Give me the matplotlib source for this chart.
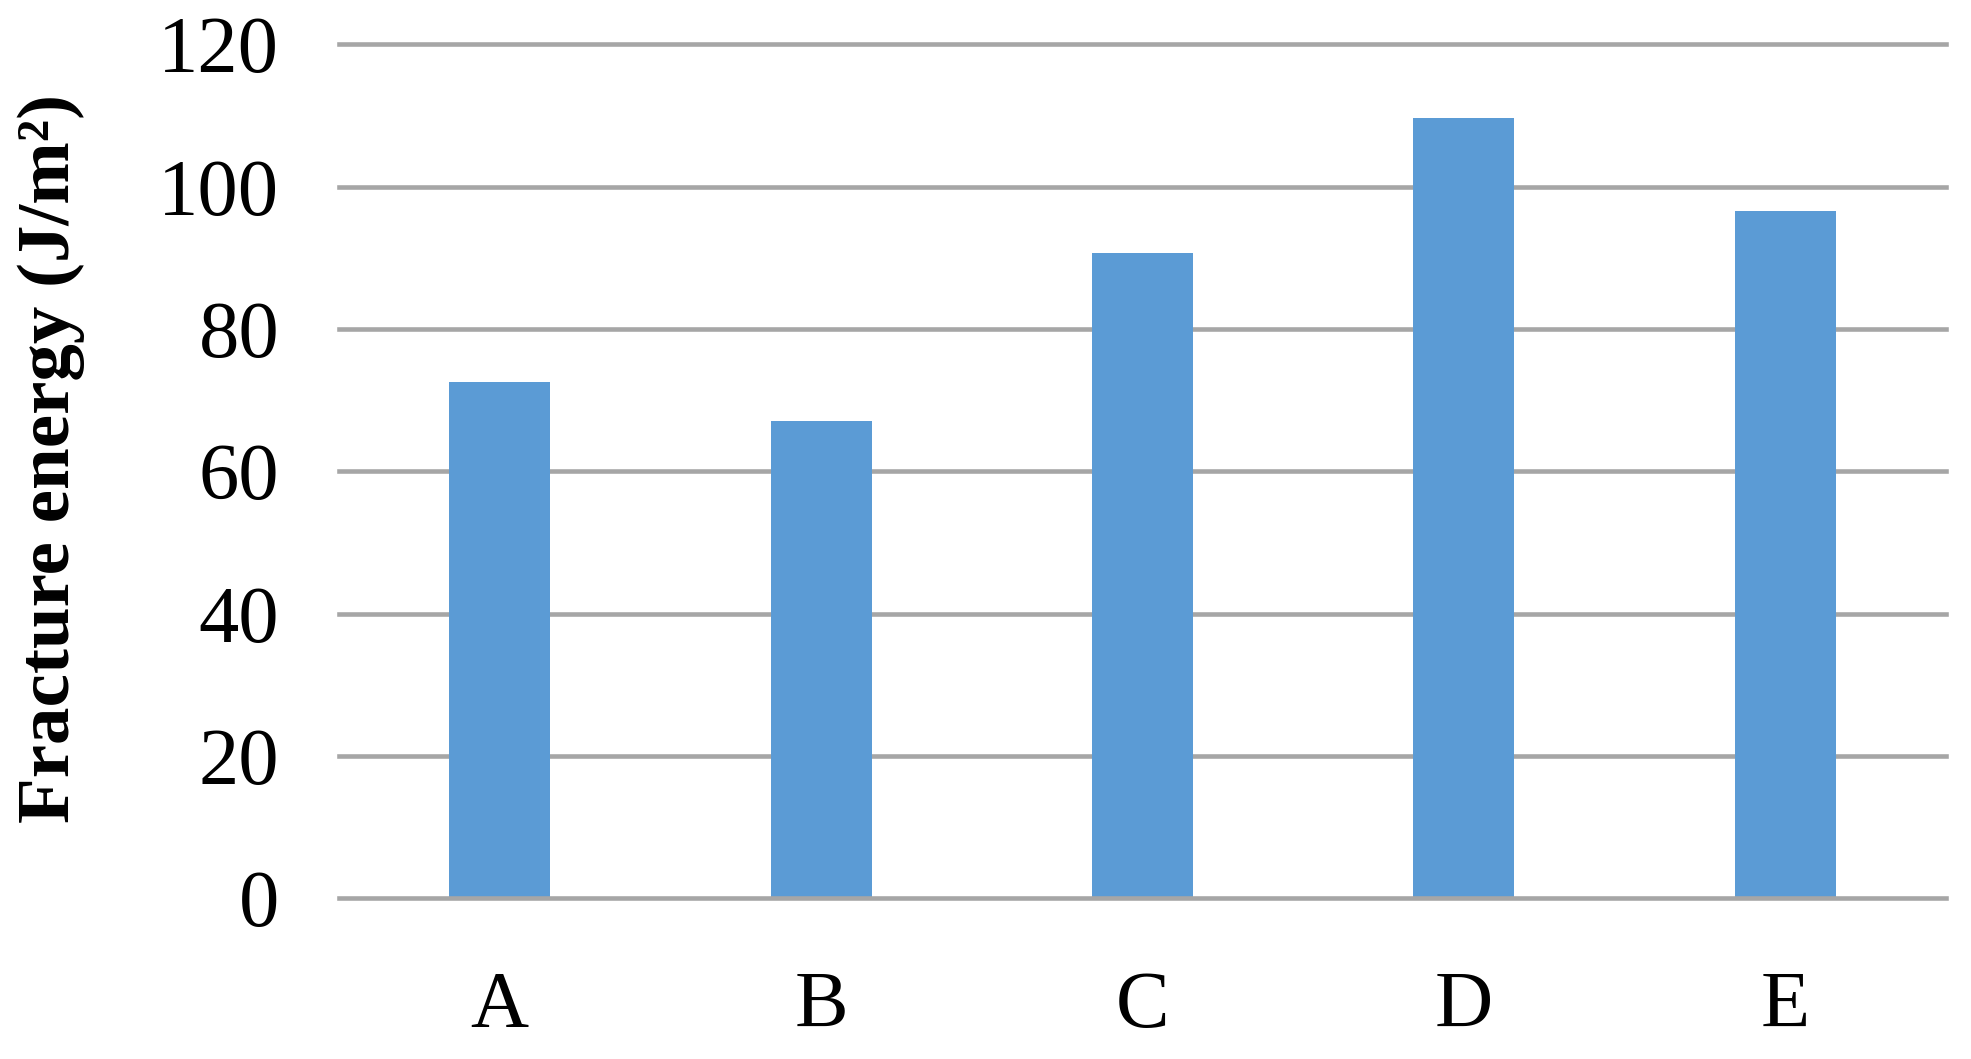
import matplotlib.pyplot as plt

samples = ["A", "B", "C", "D", "E"]
fracture_energy = [72.5, 67.1, 90.7, 109.6, 96.6]
yticks = [0, 20, 40, 60, 80, 100, 120]

plt.rcParams['font.family'] = ['Liberation Serif', 'DejaVu Serif']

fig = plt.figure(figsize=(19.71, 10.59), dpi=100)
ax = fig.add_axes([339 / 1971, 160.7 / 1059, 1607 / 1971, 854 / 1059])

bar_color = '#5B9BD5'
grid_color = '#A6A6A6'

ax.bar(range(len(samples)), fracture_energy, width=0.314, color=bar_color, zorder=2)

ax.set_xlim(-0.5, len(samples) - 0.5)
ax.set_ylim(0, 120)
ax.set_yticks(yticks)
ax.set_xticks(range(len(samples)))
ax.set_xticklabels(samples)

# gridlines behind bars, zero line on top
for v in yticks:
    ax.axhline(v, color=grid_color, linewidth=3.3, zorder=3 if v == 0 else 1, clip_on=False)

for s in ax.spines.values():
    s.set_visible(False)

ax.tick_params(axis='both', length=0, labelsize=58)
ax.tick_params(axis='y', pad=43)
ax.tick_params(axis='x', pad=52)

ax.set_ylabel("Fracture energy (J/m²)", fontsize=54, fontweight='bold')
ax.yaxis.set_label_coords(-0.158, 0.515)

fig.savefig("out.png", dpi=100)
